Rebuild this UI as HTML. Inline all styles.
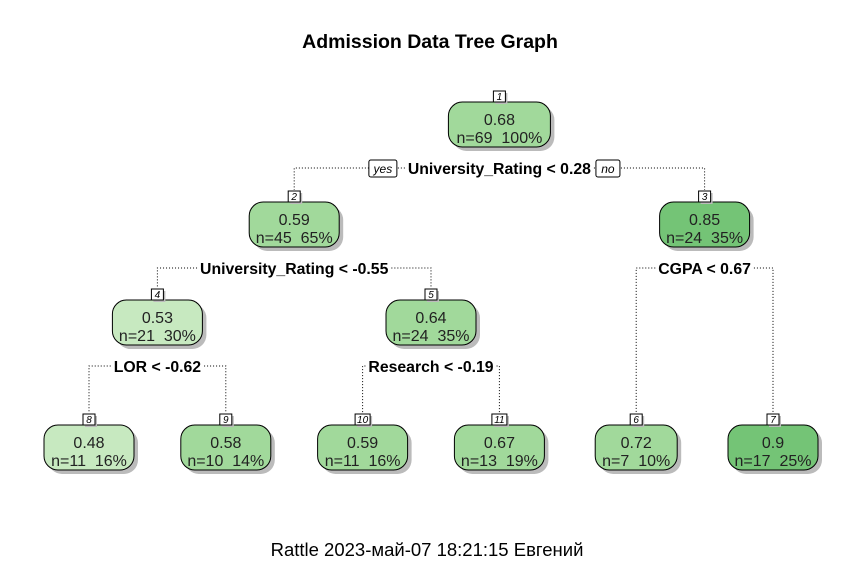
<!DOCTYPE html>
<html><head><meta charset="utf-8"><style>
body{margin:0;background:#fff;width:862px;height:583px;overflow:hidden}
svg{display:block}
text{font-family:"Liberation Sans",Arial,sans-serif;white-space:pre}
</style></head><body>
<svg id="chart" width="862" height="583" xmlns="http://www.w3.org/2000/svg">
<text x="430" y="48" text-anchor="middle" font-size="19.5" font-weight="bold">Admission Data Tree Graph</text>
<text x="427" y="556" text-anchor="middle" font-size="18.5">Rattle 2023-май-07 18:21:15 Евгений</text>
</svg>
<script>
// tree data
const nodeIds = [1,2,3,4,5,8,9,10,11,6,7];
const nodeValues = {1:"0.68",2:"0.59",3:"0.85",4:"0.53",5:"0.64",8:"0.48",9:"0.58",10:"0.59",11:"0.67",6:"0.72",7:"0.9"};
const nodeN = {1:69,2:45,3:24,4:21,5:24,8:11,9:10,10:11,11:13,6:7,7:17};
const nodePct = {1:"100%",2:"65%",3:"35%",4:"30%",5:"35%",8:"16%",9:"14%",10:"16%",11:"19%",6:"10%",7:"25%"};
const splitLabels = {1:"University_Rating < 0.28",2:"University_Rating < -0.55",3:"CGPA < 0.67",4:"LOR < -0.62",5:"Research < -0.19"};
const children = {1:[2,3],2:[4,5],3:[6,7],4:[8,9],5:[10,11]};
const leafOrder = [8,9,10,11,6,7];

const svg = document.getElementById('chart');
const NS = 'http://www.w3.org/2000/svg';
function mk(tag, attrs){const e=document.createElementNS(NS,tag);for(const k in attrs)e.setAttribute(k,attrs[k]);svg.appendChild(e);return e;}
const xLeaf = i => 89 + i*136.8;
const levelTop = {0:102,1:202,2:300,leaf:425};
const pos = {};
function layout(id, depth){
  if(!children[id]){pos[id]={x:xLeaf(leafOrder.indexOf(id)),y:levelTop.leaf};return;}
  const [l,r]=children[id];layout(l,depth+1);layout(r,depth+1);
  pos[id]={x:(pos[l].x+pos[r].x)/2,y:levelTop[depth]};
}
layout(1,0);
function color(v){v=parseFloat(v);return v>=0.8?'#74c476':(v>=0.55?'#a1d99b':'#c7e9c0');}

// edges and split labels
for(const id in children){
  const p=pos[id];const ly=p.y+72;const [l,r]=children[id];
  const t=mk('text',{x:p.x,y:ly,'text-anchor':'middle','font-size':15.8,'font-weight':'bold'});
  t.textContent=splitLabels[id];
  
  
  const tw=t.getComputedTextLength();
  [l,r].forEach((c,i)=>{
    const cx=pos[c].x;
    const sx=i===0?p.x-tw/2-3:p.x+tw/2+3;
    const e=mk('polyline',{points:`${sx},${ly-6} ${cx},${ly-6} ${cx},${pos[c].y-12}`,fill:'none',stroke:'#000','stroke-width':1,'stroke-dasharray':'1,2'});
    
    
  });
  if(id==='1'){
    [['yes',p.x-tw/2-25,28],['no',p.x+tw/2+17,24]].forEach(([s,x,w])=>{
      const b=mk('rect',{x:x-w/2,y:ly-14,width:w,height:17,rx:2,fill:'#fff',stroke:'#000','stroke-width':1});
      
      
      const tt=mk('text',{x:x,y:ly-1,'text-anchor':'middle','font-size':12,'font-style':'italic'});
      tt.textContent=s;
      
      
    });
  }
}
// nodes
nodeIds.forEach(id=>{
  const p=pos[id];const label=`n=${nodeN[id]}  ${nodePct[id]}`;
  const w=id===1?102:(id===6?82:90);const h=45;
  const sh=mk('rect',{x:p.x-w/2+4,y:p.y+4,width:w,height:h,rx:14,fill:'#bbb'});
  
  
  const r=mk('rect',{x:p.x-w/2,y:p.y,width:w,height:h,rx:14,fill:color(nodeValues[id]),stroke:'#000','stroke-width':1});
  
  
  const t1=mk('text',{x:p.x,y:p.y+23,'text-anchor':'middle','font-size':16,fill:'#222'});
  t1.textContent=nodeValues[id];
  
  
  const t2=mk('text',{x:p.x,y:p.y+41,'text-anchor':'middle','font-size':16,fill:'#222'});
  t2.textContent=label;
  
  
  const bw=String(id).length>1?15:12;
  const s2=mk('rect',{x:p.x-bw/2+2,y:p.y-9,width:bw,height:11,fill:'#bbb'});
  
  
  const nb=mk('rect',{x:p.x-bw/2,y:p.y-11,width:bw,height:11,fill:'#fff',stroke:'#000','stroke-width':1});
  
  
  const nt=mk('text',{x:p.x,y:p.y-2,'text-anchor':'middle','font-size':10,'font-style':'italic'});
  nt.textContent=id;
  
  
});
</script>
</body></html>
